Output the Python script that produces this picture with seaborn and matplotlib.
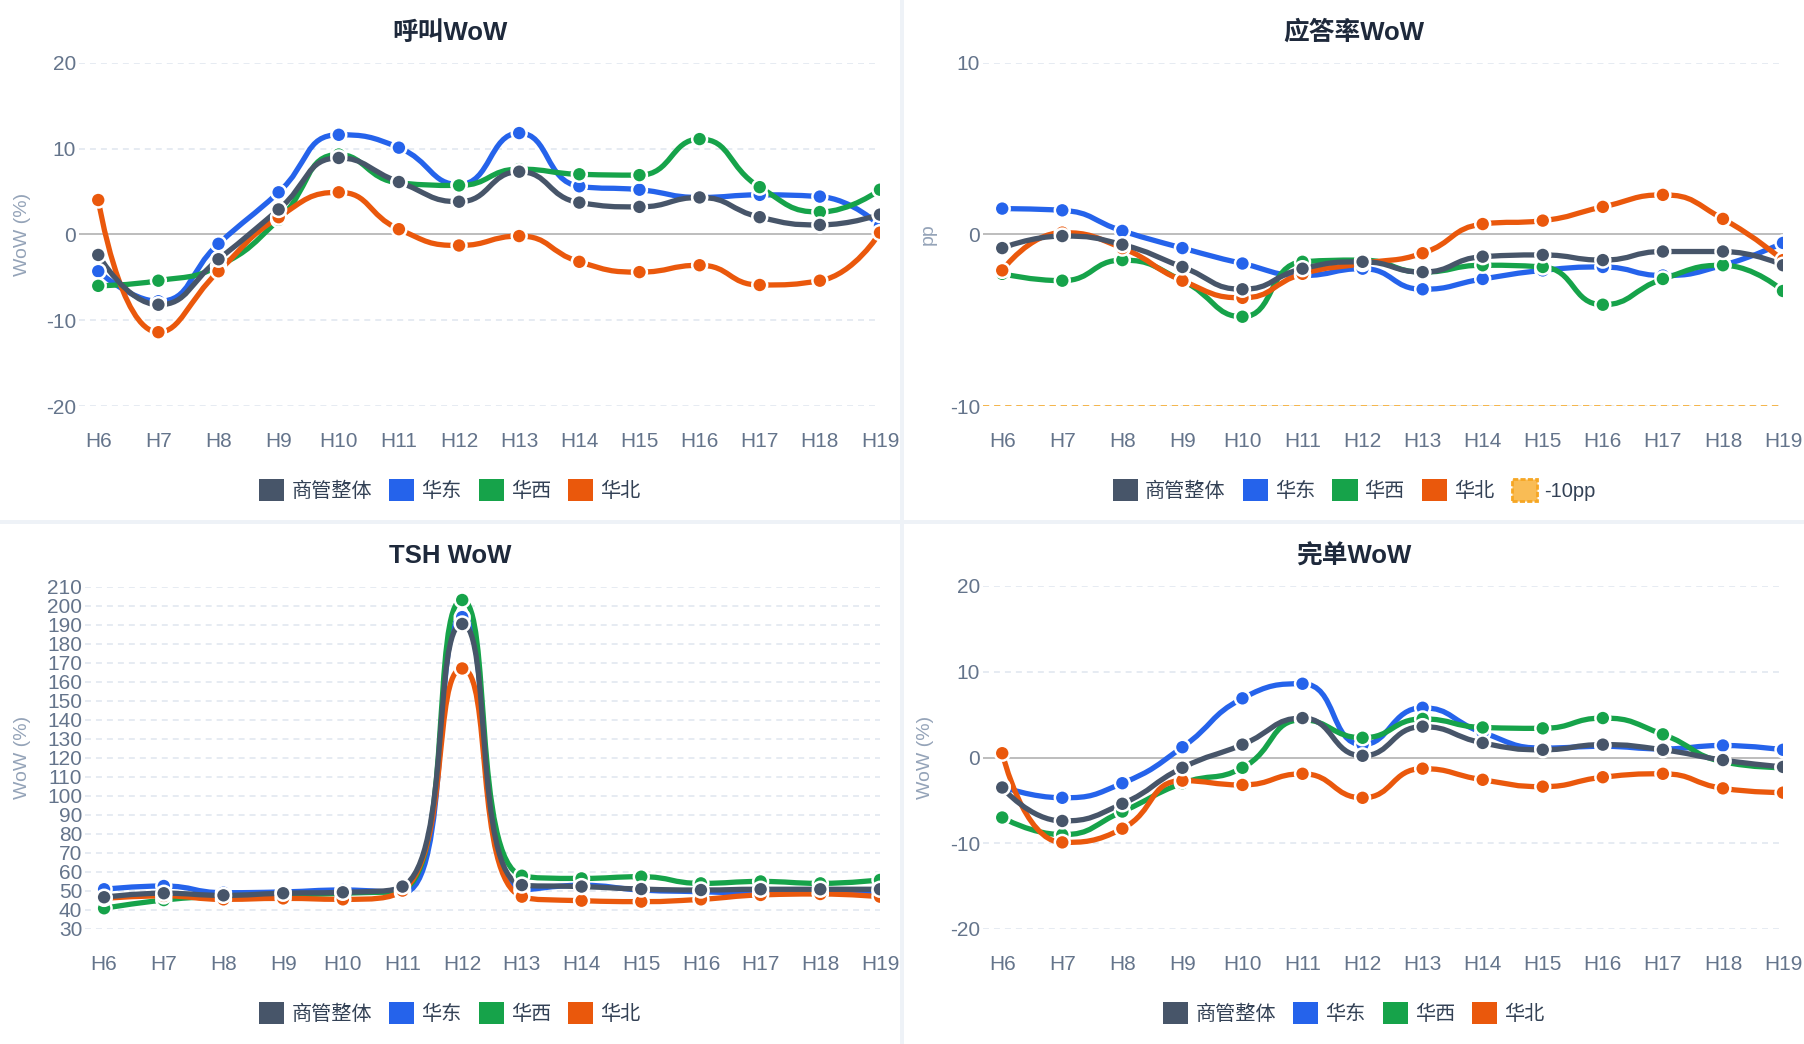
import numpy as np
import pandas as pd
import matplotlib
matplotlib.use('Agg')
import matplotlib.pyplot as plt
from matplotlib.path import Path
from matplotlib.patches import PathPatch, Rectangle, Patch
import seaborn as sns

# ---- data ----
hours = ['H6', 'H7', 'H8', 'H9', 'H10', 'H11', 'H12', 'H13', 'H14', 'H15', 'H16', 'H17', 'H18', 'H19']
series_names = ['商管整体', '华东', '华西', '华北']
draw_order = ['华东', '华西', '华北', '商管整体']
series_colors = {'商管整体': '#475569', '华东': '#2563eb', '华西': '#16a34a', '华北': '#ea580c'}

call_total = [-2.4, -8.2, -2.9, 2.9, 8.9, 6.1, 3.8, 7.3, 3.7, 3.2, 4.3, 2.0, 1.1, 2.3]
call_east = [-4.3, -7.8, -1.1, 4.9, 11.6, 10.1, 5.8, 11.8, 5.6, 5.2, 4.3, 4.6, 4.4, 1.0]
call_west = [-6.0, -5.4, -3.7, 1.7, 9.3, 6.0, 5.7, 7.6, 7.0, 6.9, 11.1, 5.5, 2.6, 5.2]
call_north = [4.0, -11.4, -4.3, 2.0, 4.9, 0.6, -1.3, -0.2, -3.2, -4.4, -3.6, -5.9, -5.4, 0.2]

answer_total = [-0.8, -0.1, -0.6, -1.9, -3.2, -2.0, -1.6, -2.2, -1.3, -1.2, -1.5, -1.0, -1.0, -1.8]
answer_east = [1.5, 1.4, 0.2, -0.8, -1.7, -2.4, -2.0, -3.2, -2.6, -2.1, -1.9, -2.4, -1.8, -0.5]
answer_west = [-2.3, -2.7, -1.5, -2.7, -4.8, -1.6, -1.5, -2.2, -1.8, -1.9, -4.1, -2.6, -1.8, -3.3]
answer_north = [-2.1, 0.1, -0.8, -2.7, -3.7, -2.3, -1.7, -1.1, 0.6, 0.8, 1.6, 2.3, 0.9, -1.5]
answer_threshold = -10

tsh_total = [46.7, 48.8, 47.7, 48.8, 49.3, 52.3, 190.4, 53.1, 52.3, 51.0, 50.5, 50.9, 50.9, 50.9]
tsh_east = [50.9, 52.6, 49.1, 49.5, 50.5, 49.0, 194.0, 50.5, 53.0, 50.5, 49.6, 48.8, 49.0, 49.6]
tsh_west = [40.9, 45.2, 47.3, 47.9, 48.8, 50.5, 203.0, 58.0, 56.6, 57.5, 54.0, 55.0, 54.0, 55.8]
tsh_north = [46.1, 47.4, 45.6, 46.1, 45.6, 50.2, 167.0, 47.0, 44.9, 44.4, 45.6, 47.9, 48.4, 47.0]

done_total = [-3.5, -7.4, -5.4, -1.2, 1.5, 4.6, 0.2, 3.6, 1.7, 0.9, 1.5, 0.9, -0.3, -1.1]
done_east = [-3.4, -4.7, -3.0, 1.2, 6.9, 8.6, 1.5, 5.8, 2.9, 1.1, 1.3, 1.0, 1.4, 0.9]
done_west = [-7.0, -9.0, -6.3, -3.0, -1.2, 4.4, 2.3, 4.5, 3.5, 3.4, 4.6, 2.7, -0.5, -1.2]
done_north = [0.5, -9.9, -8.3, -2.7, -3.2, -1.9, -4.7, -1.3, -2.6, -3.4, -2.3, -1.9, -3.6, -4.1]

W, H = 1804, 1044
sns.set_theme(style='white')
plt.rcParams['font.family'] = ['Liberation Sans', 'Noto Sans CJK SC', 'DejaVu Sans']
plt.rcParams['axes.unicode_minus'] = False
plt.rcParams['lines.scale_dashes'] = False

fig = plt.figure(figsize=(W / 100, H / 100), dpi=100)
fig.patch.set_facecolor('#eef2f7')


def fx(px):
    return px / W


def fy(py):
    return 1 - py / H


def smooth_path(ax, xs, ys, smooth=0.5):
    # echarts-like bezier smoothing, computed in pixel space
    pts = ax.transData.transform(np.column_stack([xs, ys]))
    verts = [tuple(pts[0])]
    codes = [Path.MOVETO]
    cp0 = tuple(pts[0])
    n = len(pts)
    for i in range(1, n):
        x, y = pts[i]
        px, py = pts[i - 1]
        if i == n - 1:
            cp1 = (x, y)
            ncp0 = None
        else:
            nx, ny = pts[i + 1]
            vx, vy = nx - px, ny - py
            lp = np.hypot(x - px, y - py)
            ln = np.hypot(nx - x, ny - y)
            r = ln / (ln + lp)
            ncx = x + vx * smooth * r
            ncy = y + vy * smooth * r
            ncx = max(min(ncx, max(nx, x)), min(nx, x))
            ncy = max(min(ncy, max(ny, y)), min(ny, y))
            vx, vy = ncx - x, ncy - y
            c1x = x - vx * lp / ln
            c1y = y - vy * lp / ln
            c1x = max(min(c1x, max(px, x)), min(px, x))
            c1y = max(min(c1y, max(py, y)), min(py, y))
            vx, vy = x - c1x, y - c1y
            ncp0 = (x + vx * ln / lp, y + vy * ln / lp)
            cp1 = (c1x, c1y)
        verts += [cp0, cp1, (x, y)]
        codes += [Path.CURVE4] * 3
        cp0 = ncp0
    data = ax.transData.inverted().transform(np.array(verts))
    return Path(data, codes)


panels = [
    dict(title='呼叫WoW', ylabel='WoW (%)', ylim=(-20, 20), yticks=[-20, -10, 0, 10, 20],
         values=[call_total, call_east, call_west, call_north],
         card=(0, 0, 900, 520), box=(79, 62.7, 880, 406), title_y=33, legend_y=490, ylab_x=20, zero=True),
    dict(title='应答率WoW', ylabel='pp', ylim=(-10, 10), yticks=[-10, 0, 10],
         values=[answer_total, answer_east, answer_west, answer_north],
         card=(904, 0, 1804, 520), box=(983, 62.7, 1783, 406), title_y=33, legend_y=490, ylab_x=926, zero=True,
         threshold=answer_threshold),
    dict(title='TSH WoW', ylabel='WoW (%)', ylim=(30, 210), yticks=list(range(30, 211, 10)),
         values=[tsh_total, tsh_east, tsh_west, tsh_north],
         card=(0, 524, 900, 1044), box=(85, 586.7, 880, 929), title_y=556, legend_y=1013, ylab_x=20, zero=False),
    dict(title='完单WoW', ylabel='WoW (%)', ylim=(-20, 20), yticks=[-20, -10, 0, 10, 20],
         values=[done_total, done_east, done_west, done_north],
         card=(904, 524, 1804, 1044), box=(983, 586, 1783, 929), title_y=556, legend_y=1013, ylab_x=923, zero=True),
]

for p in panels:
    cl, ct, cr, cb = p['card']
    fig.add_artist(Rectangle((fx(cl), fy(cb)), (cr - cl) / W, (cb - ct) / H,
                             transform=fig.transFigure, facecolor='white', edgecolor='none', zorder=0))
    l, t, r, b = p['box']
    ax = fig.add_axes([fx(l), fy(b), (r - l) / W, (b - t) / H])
    ax.set_facecolor('none')
    ax.set_xlim(-0.32, len(hours) - 1)
    ax.set_ylim(*p['ylim'])
    for s in ax.spines.values():
        s.set_visible(False)
    ax.set_xticks(range(len(hours)))
    ax.set_xticklabels(hours)
    ax.set_yticks(p['yticks'])
    ax.tick_params(axis='x', length=0, pad=19, labelsize=15, labelcolor='#64748b')
    ax.tick_params(axis='y', length=0, pad=2, labelsize=15, labelcolor='#64748b')
    for v in p['yticks']:
        if p['zero'] and v == 0:
            continue
        ax.axhline(v, color='#e2e8f0', lw=1.2, linestyle=(0, (4.3, 3.6)), zorder=1)
    if p['zero']:
        ax.axhline(0, color='#bdbdbd', lw=1.4, zorder=1.5)
    if 'threshold' in p:
        ax.axhline(p['threshold'], color='#f5b54a', lw=1.4, linestyle=(0, (4.5, 3.5)), zorder=2)

    named = dict(zip(series_names, p['values']))
    xs = np.arange(len(hours))
    rows = []
    for k, name in enumerate(draw_order):
        path = smooth_path(ax, xs, named[name])
        ax.add_patch(PathPatch(path, facecolor='none', edgecolor=series_colors[name], lw=3.8,
                               capstyle='round', joinstyle='round', zorder=3 + k * 0.1))
        for i, v in enumerate(named[name]):
            rows.append({'hour': i, 'value': v, 'series': name})
    df = pd.DataFrame(rows)
    sns.scatterplot(data=df, x='hour', y='value', hue='series', palette=series_colors, s=115,
                    edgecolor='white', linewidth=1.8, legend=False, ax=ax, zorder=5)
    ax.set_xlabel('')
    ax.set_ylabel(p['ylabel'], fontsize=14, color='#94a3b8')
    ax.yaxis.set_label_coords((p['ylab_x'] + 11 - l) / (r - l), 0.5)

    fig.text(fx((cl + cr) / 2), fy(p['title_y']), p['title'], ha='center', va='center',
             fontsize=18.5, fontweight='bold', color='#1e293b')

    handles = [Patch(facecolor=series_colors[n], edgecolor='none') for n in series_names]
    labels = list(series_names)
    if 'threshold' in p:
        handles.append(Patch(facecolor='#f9bc55', edgecolor='#f6a623', linestyle='--', lw=2))
        labels.append('-10pp')
    ax.legend(handles, labels, loc='center', bbox_to_anchor=(fx((cl + cr) / 2), fy(p['legend_y'])),
              bbox_transform=fig.transFigure, ncol=len(labels), frameon=False, fontsize=14.5,
              handlelength=1.25, handleheight=1.25, handletextpad=0.35, columnspacing=0.85,
              labelcolor='#334155')

fig.savefig('out.png', dpi=100, facecolor=fig.get_facecolor())
